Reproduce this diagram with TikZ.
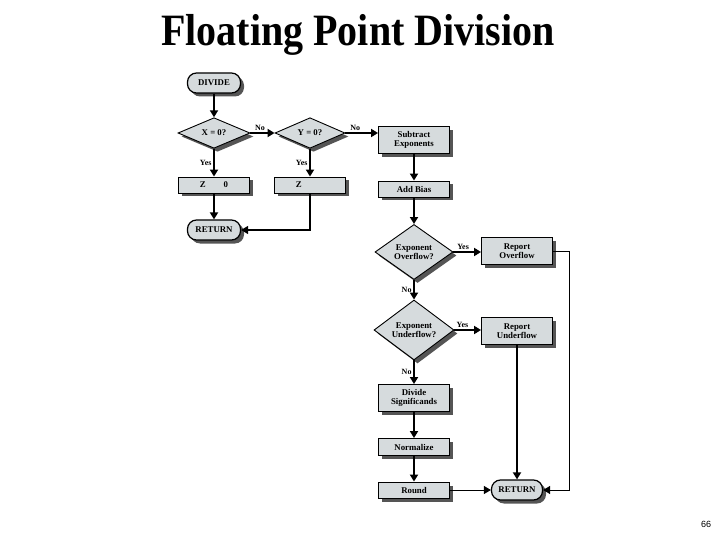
\documentclass[tikz,border=0pt]{standalone}
\usepackage{fontspec}
\setmainfont{Liberation Serif}
\newfontfamily\pgsans{Liberation Sans}
\usetikzlibrary{shapes.geometric,shadows,arrows.meta}
\definecolor{boxgray}{RGB}{214,219,221}
\definecolor{shadowgray}{RGB}{85,85,85}
\begin{document}
\begin{tikzpicture}[x=1pt,y=-1pt,
  shad/.style={drop shadow={shadow xshift=3.5pt,shadow yshift=-3.5pt,fill=shadowgray,opacity=1}},
  txt/.style={font=\bfseries\fontsize{8.8}{9.6}\selectfont,align=center},
  box/.style={txt,draw=black,line width=0.9pt,fill=boxgray,minimum width=71pt,inner sep=1pt,shad},
  term/.style={txt,draw=black,line width=1.2pt,fill=boxgray,rounded corners=9pt,minimum width=53pt,minimum height=20pt,inner sep=1pt,shad},
  dia/.style={txt,diamond,draw=black,line width=0.9pt,fill=boxgray,inner sep=0pt,shad},
  lab/.style={font=\bfseries\fontsize{8}{9}\selectfont,inner sep=1.5pt},
  arr/.style={line width=2pt,-{Triangle[width=8pt,length=7pt]}},
  tarr/.style={line width=1pt,-{Triangle[width=8pt,length=7pt]}}
]
\useasboundingbox (0,0) rectangle (720,540);
\node[font=\bfseries\fontsize{40}{44}\selectfont,inner sep=0pt] (title) at (358,35) {\scalebox{1}[1.12]{Floating Point Division}};
\node[font=\pgsans\fontsize{9}{10}\selectfont] (pg) at (706,524) {66};

\node[term] (divide) at (214,83) {DIVIDE};
\node[dia,minimum width=72pt,minimum height=29pt] (x0) at (214,133) {X = 0?};
\node[dia,minimum width=70pt,minimum height=29pt] (y0) at (310,133) {Y = 0?};
\node[box,minimum height=27pt] (sub) at (414,140) {Subtract\\Exponents};
\node[box,minimum height=16pt] (z0) at (214,185) {Z\hspace{18pt}0};
\node[box,minimum height=16pt] (z) at (310,185) {Z\hspace{18pt}\phantom{0}};
\node[term] (ret1) at (214,230) {RETURN};
\node[box,minimum height=16pt] (bias) at (414,189) {Add Bias};
\node[dia,minimum width=78pt,minimum height=47pt] (ovf) at (414,252) {Exponent\\Overflow?};
\node[box,minimum height=27pt] (rovf) at (517,251) {Report\\Overflow};
\node[dia,minimum width=80pt,minimum height=50pt] (unf) at (414,330) {Exponent\\Underflow?};
\node[box,minimum height=27pt] (runf) at (517,331) {Report\\Underflow};
\node[box,minimum height=27pt] (divs) at (414,398) {Divide\\Significands};
\node[box,minimum height=17pt] (norm) at (414,447) {Normalize};
\node[box,minimum height=16pt] (round) at (414,490) {Round};
\node[term,minimum width=51pt] (ret2) at (517,490) {RETURN};
\coordinate (loop) at (569,251);

\draw[arr] (divide) -- (x0);
\draw[arr] (x0.east) -- (y0.west) node[lab,pos=0.4,above] {No};
\draw[arr] (y0.east) -- (y0.east -| sub.west) node[lab,pos=0.3,above] {No};
\draw[arr] (x0.south) -- (z0.north) node[lab,midway,left] {Yes};
\draw[arr] (y0.south) -- (z.north) node[lab,midway,left] {Yes};
\draw[arr] (z0) -- (ret1);
\draw[tarr,line width=1.3pt] (z.south) |- (ret1.east);
\draw[arr] (sub) -- (bias);
\draw[arr] (bias) -- (ovf.north);
\draw[arr] (ovf.east) -- (ovf.east -| rovf.west) node[lab,pos=0.35,above] {Yes};
\draw[arr] (ovf.south) -- (unf.north) node[lab,midway,left] {No};
\draw[arr] (unf.east) -- (unf.east -| runf.west) node[lab,pos=0.3,above] {Yes};
\draw[arr] (unf.south) -- (divs.north) node[lab,midway,left] {No};
\draw[arr] (divs) -- (norm);
\draw[arr] (norm) -- (round);
\draw[tarr] (round) -- (ret2);
\draw[arr] (runf) -- (ret2);
\draw[tarr] (rovf.east) -- (loop) |- (ret2.east);
\end{tikzpicture}
\end{document}
